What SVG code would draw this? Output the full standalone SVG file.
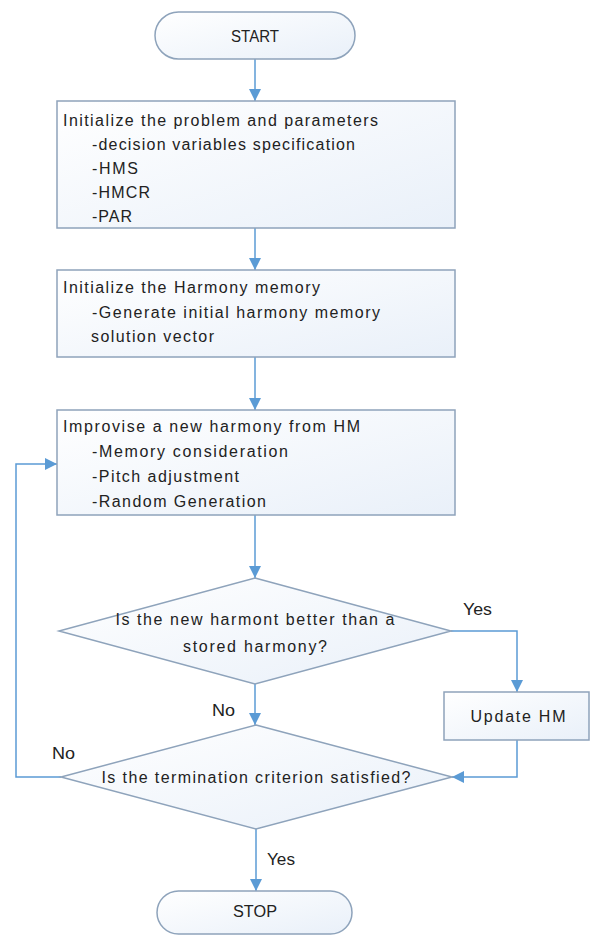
<svg xmlns="http://www.w3.org/2000/svg" width="591" height="936" viewBox="0 0 591 936">
<defs>
<linearGradient id="fillg" x1="0" y1="0" x2="1" y2="1">
<stop offset="0" stop-color="#ffffff"/>
<stop offset="1" stop-color="#e9f0f9"/>
</linearGradient>
<marker id="arr" viewBox="0 0 10 10" refX="10" refY="5" markerWidth="12" markerHeight="12" markerUnits="userSpaceOnUse" orient="auto">
<path d="M0,0 L10,5 L0,10 z" fill="#5b9bd5"/>
</marker>
</defs>
<style>
.shape{fill:url(#fillg);stroke:#8ea3bb;stroke-width:1.5}
.t{font-family:"Liberation Sans",Arial,sans-serif;font-size:16px;fill:#222222}
.c{text-anchor:middle}
.conn{fill:none;stroke:#5b9bd5;stroke-width:1.5}
</style>
<rect width="591" height="936" fill="#ffffff"/>

<g id="connectors">
<path class="conn" d="M255,59 V101" marker-end="url(#arr)"/>
<path class="conn" d="M255,228 V270" marker-end="url(#arr)"/>
<path class="conn" d="M255,357 V410" marker-end="url(#arr)"/>
<path class="conn" d="M255,515 V578" marker-end="url(#arr)"/>
<path class="conn" d="M451,631 H517 V692" marker-end="url(#arr)"/>
<path class="conn" d="M255,684 V725" marker-end="url(#arr)"/>
<path class="conn" d="M517,740 V777 H452" marker-end="url(#arr)"/>
<path class="conn" d="M61,777 H16 V464 H57" marker-end="url(#arr)"/>
<path class="conn" d="M256,829 V891" marker-end="url(#arr)"/>
<text class="t" x="463" y="615" textLength="29" lengthAdjust="spacingAndGlyphs">Yes</text>
<text class="t" x="212" y="716" textLength="23" lengthAdjust="spacingAndGlyphs">No</text>
<text class="t" x="52" y="759" textLength="23" lengthAdjust="spacingAndGlyphs">No</text>
<text class="t" x="267" y="865" textLength="28" lengthAdjust="spacingAndGlyphs">Yes</text>
</g>

<g id="start">
<rect class="shape" x="155" y="12" width="200" height="47" rx="23.5" ry="23.5"/>
<text class="t c" x="255" y="42" font-size="14" textLength="48" lengthAdjust="spacingAndGlyphs">START</text>
</g>

<g id="init-problem">
<rect class="shape" x="57" y="101" width="398" height="127"/>
<text class="t" x="63" y="126" textLength="315" lengthAdjust="spacing">Initialize the problem and parameters</text>
<text class="t" x="92" y="150" textLength="263" lengthAdjust="spacing">-decision variables specification</text>
<text class="t" x="92" y="174" textLength="46" lengthAdjust="spacing">-HMS</text>
<text class="t" x="92" y="198" textLength="58" lengthAdjust="spacing">-HMCR</text>
<text class="t" x="92" y="222" textLength="40" lengthAdjust="spacing">-PAR</text>
</g>

<g id="init-hm">
<rect class="shape" x="57" y="270" width="398" height="87"/>
<text class="t" x="63" y="293" textLength="257" lengthAdjust="spacing">Initialize the Harmony memory</text>
<text class="t" x="92" y="318" textLength="288" lengthAdjust="spacing">-Generate initial harmony memory</text>
<text class="t" x="91" y="342" textLength="123" lengthAdjust="spacing">solution vector</text>
</g>

<g id="improvise">
<rect class="shape" x="57" y="410" width="398" height="105"/>
<text class="t" x="63" y="432" textLength="297" lengthAdjust="spacing">Improvise a new harmony from HM</text>
<text class="t" x="92" y="457" textLength="196" lengthAdjust="spacing">-Memory consideration</text>
<text class="t" x="92" y="482" textLength="147" lengthAdjust="spacing">-Pitch adjustment</text>
<text class="t" x="92" y="507" textLength="174" lengthAdjust="spacing">-Random Generation</text>
</g>

<g id="decision-better">
<polygon class="shape" points="255,578 451,631 255,684 59,631"/>
<text class="t c" x="255" y="625" textLength="279" lengthAdjust="spacing">Is the new harmont better than a</text>
<text class="t c" x="255" y="652" textLength="144" lengthAdjust="spacing">stored harmony?</text>
</g>

<g id="update-hm">
<rect class="shape" x="444" y="692" width="145" height="48"/>
<text class="t c" x="518" y="722" textLength="95" lengthAdjust="spacing">Update HM</text>
</g>

<g id="decision-termination">
<polygon class="shape" points="256,725 452,777 256,829 61,777"/>
<text class="t c" x="256" y="783" textLength="309" lengthAdjust="spacing">Is the termination criterion satisfied?</text>
</g>

<g id="stop">
<rect class="shape" x="157" y="891" width="195" height="43" rx="21.5" ry="21.5"/>
<text class="t c" x="255" y="917" font-size="14" textLength="44" lengthAdjust="spacingAndGlyphs">STOP</text>
</g>
</svg>
